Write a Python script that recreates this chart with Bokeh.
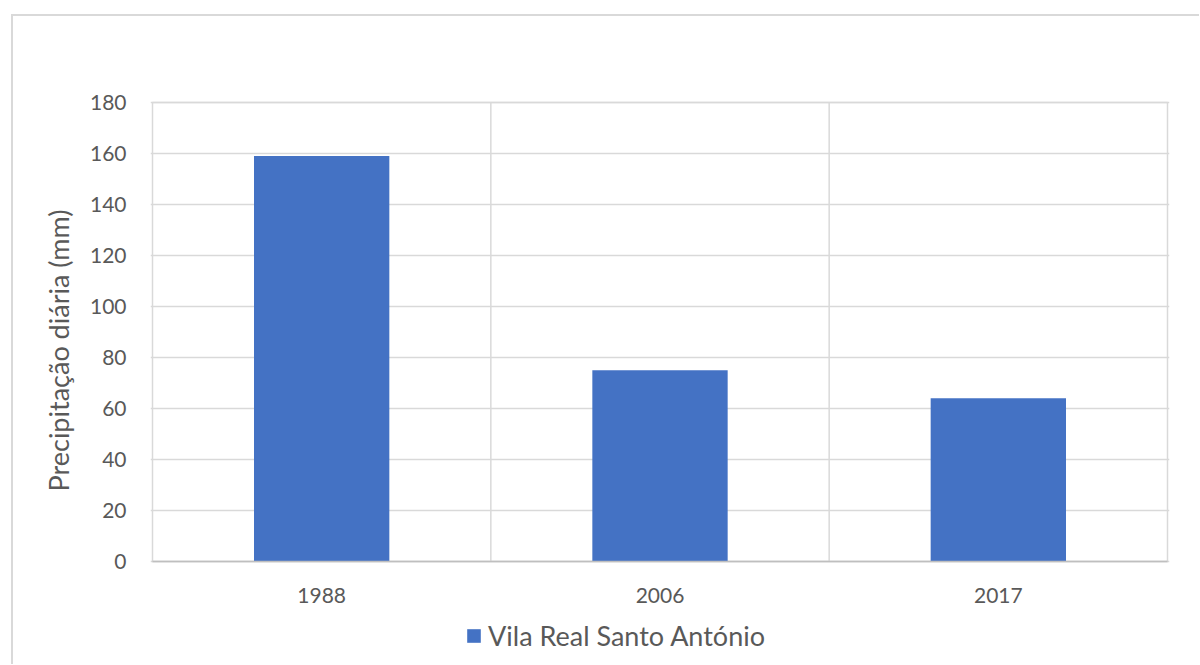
from bokeh.plotting import figure
from bokeh.models import (FixedTicker, Legend, LegendItem, ColumnDataSource, Range1d, Title)
from bokeh.embed import file_html
from bokeh.resources import INLINE

# Daily precipitation records, Vila Real de Santo António
years = ["1988", "2006", "2017"]
precip_mm = [159, 75, 64]
series_name = "Vila Real Santo António"
y_label = "Precipitação diária (mm)"
y_ticks = [0, 20, 40, 60, 80, 100, 120, 140, 160, 180]

FONT = "Lato"
TEXT = "#595959"
GRID = "#d9d9d9"
BAR = "#4472c4"

# Layout in pixels: value area 459 x 1015 px, 105 px below it for labels and legend,
# plus a small pad so the area border is not clipped at the frame edge
AREA_W, AREA_H, BELOW_H, PAD = 1015, 459, 105, 2
n = len(years)
y_max = max(y_ticks)
y_per_px = y_max / AREA_H
x_per_px = n / AREA_W
y_min = -BELOW_H * y_per_px

centers = [i + 0.5 for i in range(n)]
src = ColumnDataSource(dict(x=centers, top=precip_mm, year=years))

p = figure(width=1188, height=650, output_backend="svg", toolbar_location=None,
           x_range=Range1d(-PAD * x_per_px, n + PAD * x_per_px),
           y_range=Range1d(y_min, y_max + PAD * y_per_px),
           min_border_left=139 - PAD, min_border_right=34 - PAD,
           min_border_top=86 - PAD, min_border_bottom=0)
p.styles = {"margin-left": "11px", "margin-top": "14px",
            "border-left": "2px solid #d9d9d9", "border-top": "2px solid #d9d9d9"}
p.background_fill_color = "white"
p.border_fill_color = "white"
p.outline_line_color = None

# Grid: horizontal at value ticks
p.xgrid.visible = False
p.ygrid.ticker = FixedTicker(ticks=y_ticks)
p.ygrid.grid_line_color = GRID
p.ygrid.grid_line_width = 1.5

# Border of the value area and dividers between categories
p.quad(left=[0], right=[n], bottom=[0], top=[y_max],
       fill_color=None, line_color=GRID, line_width=1.5)
p.segment(x0=list(range(1, n)), y0=[0] * (n - 1), x1=list(range(1, n)), y1=[y_max] * (n - 1),
          line_color=GRID, line_width=1.5)

r = p.vbar(x="x", top="top", bottom=0, width=0.4, source=src, fill_color=BAR, line_color=None)

# x axis sits on the zero line
p.xaxis.fixed_location = 0
p.xaxis.bounds = (0, n)
p.xaxis.ticker = FixedTicker(ticks=centers)
p.xaxis.major_label_overrides = {c: y for c, y in zip(centers, years)}
p.yaxis.ticker = FixedTicker(ticks=y_ticks)
for ax in (p.xaxis[0], p.yaxis[0]):
    ax.major_tick_line_color = None
    ax.minor_tick_line_color = None
    ax.major_label_text_font = FONT
    ax.major_label_text_font_size = "21px"
    ax.major_label_text_color = TEXT
p.xaxis.axis_line_color = "#bfbfbf"
p.xaxis.axis_line_width = 1.5
p.yaxis.axis_line_color = None
p.xaxis.major_label_standoff = 20
p.yaxis.major_label_standoff = 18

p.add_layout(Title(text=y_label, align="left", offset=175, standoff=24,
                   text_font=FONT, text_font_size="27px", text_font_style="normal",
                   text_color=TEXT), "left")

legend = Legend(items=[LegendItem(label=series_name, renderers=[r])],
                orientation="horizontal", location=(313 + PAD, 14),
                label_text_font=FONT, label_text_font_size="27px", label_text_color=TEXT,
                glyph_width=17, glyph_height=17, label_standoff=6,
                border_line_color=None, background_fill_alpha=0,
                margin=0, padding=2)
p.add_layout(legend, "center")

open("out.html", "w").write(file_html(p, INLINE))
